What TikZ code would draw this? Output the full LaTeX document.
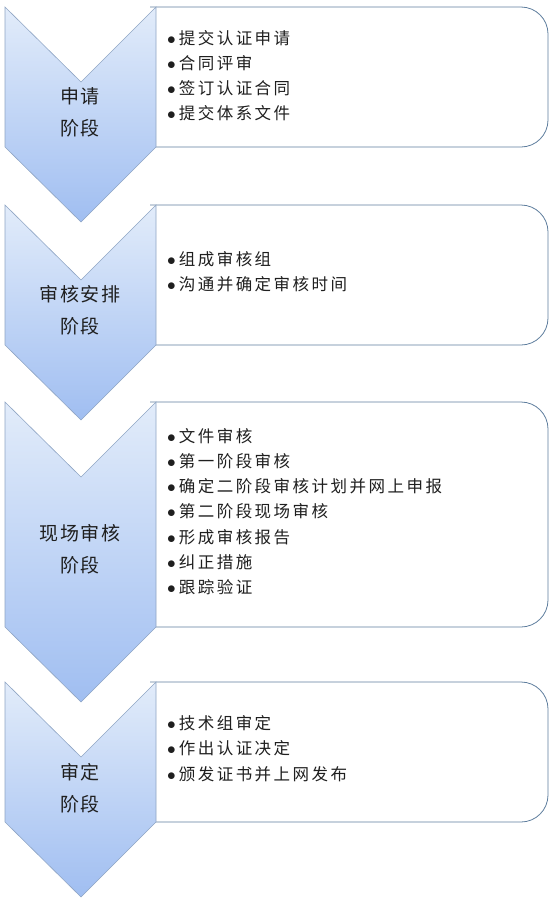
\documentclass[tikz,border=0pt]{standalone}
\usepackage{fontspec}
\newfontfamily\cjk[LetterSpace=15]{Noto Sans CJK SC}
\newfontfamily\cjklabel[LetterSpace=8]{Noto Sans CJK SC}
\definecolor{chevtop}{HTML}{E2ECFA}
\definecolor{chevbot}{HTML}{A0BEF1}
\definecolor{chevline}{HTML}{8FA5C4}
\definecolor{cardline}{HTML}{5F7E9E}
\newcommand\itm{$\bullet$\hspace{3pt}}
\begin{document}
\begin{tikzpicture}[x=1pt,y=-1pt,
    chev/.style = {draw=chevline, line width=0.6pt, top color=chevtop, bottom color=chevbot},
    card/.style = {draw=cardline, line width=0.8pt, fill=white, rounded corners=27pt},
    stage/.style = {align=center, inner sep=0pt, text=black!88, font=\cjklabel\fontsize{19}{32}\selectfont},
    item/.style = {anchor=base west, inner sep=0pt, text=black!88, font=\cjk\fontsize{16.5}{20}\selectfont}]
  \useasboundingbox (0,0) rectangle (549,905);
  % application
  \draw[card] (150,7) -- (548,7) -- (548,147) -- (150,147);
  \draw[chev] (5,7) -- (81,82) -- (156,7) -- (156,147) -- (81,222) -- (5,147) -- cycle;
  \node[stage] (apply) at (80,112) {申请\\阶段};
  \foreach \txt [count=\i] in {提交认证申请,合同评审,签订认证合同,提交体系文件}
    \node[item] (apply-\i) at (167,{44+25.2*(\i-1)}) {\itm\txt};
  % planning
  \draw[card] (150,205) -- (548,205) -- (548,345) -- (150,345);
  \draw[chev] (5,205) -- (81,280) -- (156,205) -- (156,345) -- (81,420) -- (5,345) -- cycle;
  \node[stage] (plan) at (80,310) {审核安排\\阶段};
  \foreach \txt [count=\i] in {组成审核组,沟通并确定审核时间}
    \node[item] (plan-\i) at (167,{265+25.2*(\i-1)}) {\itm\txt};
  % on-site audit
  \draw[card] (150,402) -- (548,402) -- (548,627) -- (150,627);
  \draw[chev] (5,402) -- (81,477) -- (156,402) -- (156,627) -- (81,702) -- (5,627) -- cycle;
  \node[stage] (audit) at (80,549) {现场审核\\阶段};
  \foreach \txt [count=\i] in {文件审核,第一阶段审核,确定二阶段审核计划并网上申报,第二阶段现场审核,形成审核报告,纠正措施,跟踪验证}
    \node[item] (audit-\i) at (167,{442+25.3*(\i-1)}) {\itm\txt};
  % decision
  \draw[card] (150,682) -- (548,682) -- (548,822) -- (150,822);
  \draw[chev] (5,682) -- (81,757) -- (156,682) -- (156,822) -- (81,897) -- (5,822) -- cycle;
  \node[stage] (decide) at (80,788) {审定\\阶段};
  \foreach \txt [count=\i] in {技术组审定,作出认证决定,颁发证书并上网发布}
    \node[item] (decide-\i) at (167,{729+25.8*(\i-1)}) {\itm\txt};
\end{tikzpicture}
\end{document}
